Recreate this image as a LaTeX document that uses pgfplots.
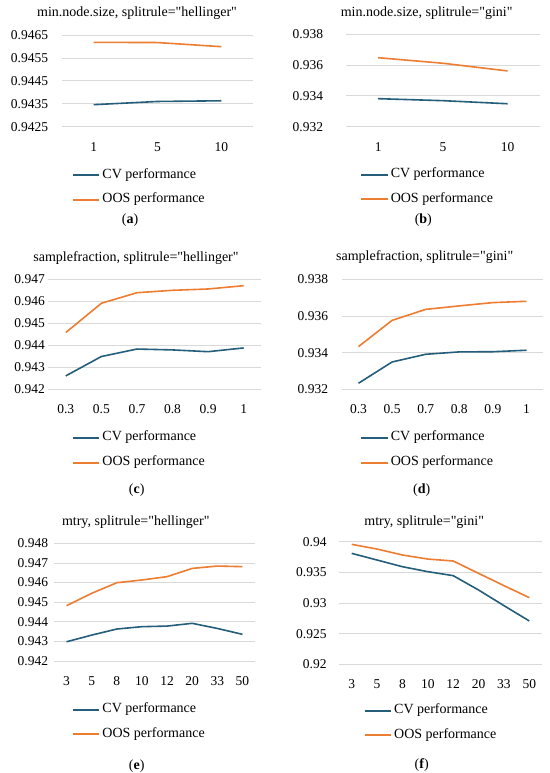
\documentclass[border=0pt]{standalone}
\usepackage{pgfplots}
\pgfplotsset{compat=1.18}
\usepackage{fontspec}
\setmainfont{Liberation Serif}

\definecolor{cvblue}{RGB}{36,94,122}
\definecolor{oosorange}{RGB}{237,125,49}
\definecolor{gridgray}{RGB}{217,217,217}
\newcommand\tickfont{\fontsize{13.5bp}{15bp}\selectfont}
\newcommand\chartfont{\fontsize{14bp}{16bp}\selectfont}
\newcommand\titlefont{\fontsize{14bp}{16bp}\selectfont}
% straight double quote, taken as a glyph so that the tex-text mapping leaves it alone
\newcommand\q{\XeTeXglyph\XeTeXglyphindex "quotedbl"\relax}

\pgfplotsset{
  panel/.style={
    scale only axis,
    anchor=south west,
    axis line style={draw=none},
    major tick length=0pt,
    ymajorgrids,
    major grid style={gridgray, line width=0.8bp},
    scaled y ticks=false,
    tick label style={font=\tickfont},
    /pgf/number format/assume math mode=true,
    xticklabel style={anchor=center, yshift=-20bp},
    clip=false,
    legend cell align=left,
    legend style={draw=none, fill=none, inner sep=0pt, anchor=west,
      font=\chartfont, row sep=12bp, column sep=2bp,
      nodes={inner sep=0pt, text height=9bp, text depth=3.5bp}},
    legend image code/.code={\draw[##1, line width=2bp] (0bp,0bp) -- (26.6bp,0bp);},
  },
  cv/.style={cvblue, line width=1.6bp, mark=none},
  oos/.style={oosorange, line width=1.6bp, mark=none},
}

\begin{document}
\begin{tikzpicture}
\path[fill=white, use as bounding box] (0,0) rectangle (550bp,773bp);

% (a) min.node.size, hellinger
\begin{axis}[panel, at={(61.7bp,646.3bp)}, width=191.6bp, height=91.7bp,
    xmin=-0.5, xmax=2.5, xtick={0,1,2}, xticklabels={1,5,10},
    ymin=0.9425, ymax=0.9465, ytick={0.9425,0.9435,0.9445,0.9455,0.9465},
    yticklabel style={anchor=east, inner sep=0pt, xshift=-13.4bp,
      /pgf/number format/.cd, fixed, precision=4, fixed zerofill},
    legend style={at={(0.052,-0.665)}}]
  \addplot[cv] coordinates {(0,0.94346) (1,0.94360) (2,0.94363)};
  \addplot[oos] coordinates {(0,0.94618) (1,0.94617) (2,0.94599)};
  \legend{CV performance, OOS performance}
\end{axis}

% (b) min.node.size, gini
\begin{axis}[panel, at={(345.8bp,646.3bp)}, width=194.2bp, height=92.4bp,
    xmin=-0.5, xmax=2.5, xtick={0,1,2}, xticklabels={1,5,10},
    ymin=0.932, ymax=0.938, ytick={0.932,0.934,0.936,0.938},
    yticklabel style={anchor=east, inner sep=0pt, xshift=-22.5bp,
      /pgf/number format/.cd, fixed, precision=3, fixed zerofill},
    legend style={at={(0.073,-0.655)}}]
  \addplot[cv] coordinates {(0,0.93382) (1,0.93369) (2,0.93349)};
  \addplot[oos] coordinates {(0,0.93648) (1,0.93612) (2,0.93562)};
  \legend{CV performance, OOS performance}
\end{axis}

% (c) samplefraction, hellinger
\begin{axis}[panel, at={(48bp,383.7bp)}, width=213.5bp, height=110bp,
    xmin=-0.5, xmax=5.5, xtick={0,...,5}, xticklabels={0.3,0.5,0.7,0.8,0.9,1},
    ymin=0.942, ymax=0.947, ytick={0.942,0.943,0.944,0.945,0.946,0.947},
    yticklabel style={anchor=east, inner sep=0pt, xshift=-3bp,
      /pgf/number format/.cd, fixed, precision=3, fixed zerofill},
    legend style={at={(0.111,-0.555)}}]
  \addplot[cv] coordinates {(0,0.94261) (1,0.94349) (2,0.94383) (3,0.94379) (4,0.94371) (5,0.94388)};
  \addplot[oos] coordinates {(0,0.94458) (1,0.94591) (2,0.94639) (3,0.94650) (4,0.94656) (5,0.94671)};
  \legend{CV performance, OOS performance}
\end{axis}

% (d) samplefraction, gini
\begin{axis}[panel, at={(341.7bp,383.7bp)}, width=201.6bp, height=110bp,
    xmin=-0.5, xmax=5.5, xtick={0,...,5}, xticklabels={0.3,0.5,0.7,0.8,0.9,1},
    ymin=0.932, ymax=0.938, ytick={0.932,0.934,0.936,0.938},
    yticklabel style={anchor=east, inner sep=0pt, xshift=-13.4bp,
      /pgf/number format/.cd, fixed, precision=3, fixed zerofill},
    legend style={at={(0.091,-0.555)}}]
  \addplot[cv] coordinates {(0,0.93233) (1,0.93349) (2,0.93391) (3,0.93404) (4,0.93405) (5,0.93413)};
  \addplot[oos] coordinates {(0,0.93433) (1,0.93576) (2,0.93636) (3,0.93655) (4,0.93673) (5,0.93680)};
  \legend{CV performance, OOS performance}
\end{axis}

% (e) mtry, hellinger
\begin{axis}[panel, at={(54bp,112bp)}, width=201bp, height=117.7bp,
    xmin=-0.5, xmax=7.5, xtick={0,...,7}, xticklabels={3,5,8,10,12,20,33,50},
    ymin=0.942, ymax=0.948, ytick={0.942,0.943,0.944,0.945,0.946,0.947,0.948},
    yticklabel style={anchor=east, inner sep=0pt, xshift=-5.7bp,
      /pgf/number format/.cd, fixed, precision=3, fixed zerofill},
    legend style={at={(0.088,-0.52)}}]
  \addplot[cv] coordinates {(0,0.94298) (1,0.94332) (2,0.94363) (3,0.94375) (4,0.94378) (5,0.94392) (6,0.94366) (7,0.94336)};
  \addplot[oos] coordinates {(0,0.94482) (1,0.94545) (2,0.94599) (3,0.94613) (4,0.94630) (5,0.94672) (6,0.94684) (7,0.94681)};
  \legend{CV performance, OOS performance}
\end{axis}

% (f) mtry, gini
\begin{axis}[panel, at={(339bp,108.7bp)}, width=203bp, height=122.6bp,
    xmin=-0.5, xmax=7.5, xtick={0,...,7}, xticklabels={3,5,8,10,12,20,33,50},
    ymin=0.92, ymax=0.94, ytick={0.92,0.925,0.93,0.935,0.94},
    yticklabel style={anchor=east, inner sep=0pt, xshift=-12.3bp,
      /pgf/number format/.cd, fixed, precision=3},
    legend style={at={(0.120,-0.48)}}]
  \addplot[cv] coordinates {(0,0.93810) (1,0.93701) (2,0.93592) (3,0.93511) (4,0.93446) (5,0.93212) (6,0.92957) (7,0.92707)};
  \addplot[oos] coordinates {(0,0.93957) (1,0.93880) (2,0.93783) (3,0.93717) (4,0.93685) (5,0.93484) (6,0.93283) (7,0.93087)};
  \legend{CV performance, OOS performance}
\end{axis}

% panel titles
\node[font=\titlefont] at (137bp,760.3bp) {min.node.size, splitrule=\q hellinger\q};
\node[font=\titlefont] at (426.7bp,760.3bp) {min.node.size, splitrule=\q gini\q};
\node[font=\titlefont] at (136bp,514.7bp) {samplefraction, splitrule=\q hellinger\q};
\node[font=\titlefont] at (424.7bp,516.3bp) {samplefraction, splitrule=\q gini\q};
\node[font=\titlefont] at (135.8bp,251.3bp) {mtry, splitrule=\q hellinger\q};
\node[font=\titlefont] at (424.2bp,251.3bp) {mtry, splitrule=\q gini\q};

% panel captions
\node[font=\chartfont] at (130bp,553bp) {(\textbf{a})};
\node[font=\chartfont] at (423.3bp,553bp) {(\textbf{b})};
\node[font=\chartfont] at (136.7bp,283bp) {(\textbf{c})};
\node[font=\chartfont] at (421.7bp,283bp) {(\textbf{d})};
\node[font=\chartfont] at (136.7bp,6.8bp) {(\textbf{e})};
\node[font=\chartfont] at (421.7bp,8bp) {(\textbf{f})};
\end{tikzpicture}
\end{document}
